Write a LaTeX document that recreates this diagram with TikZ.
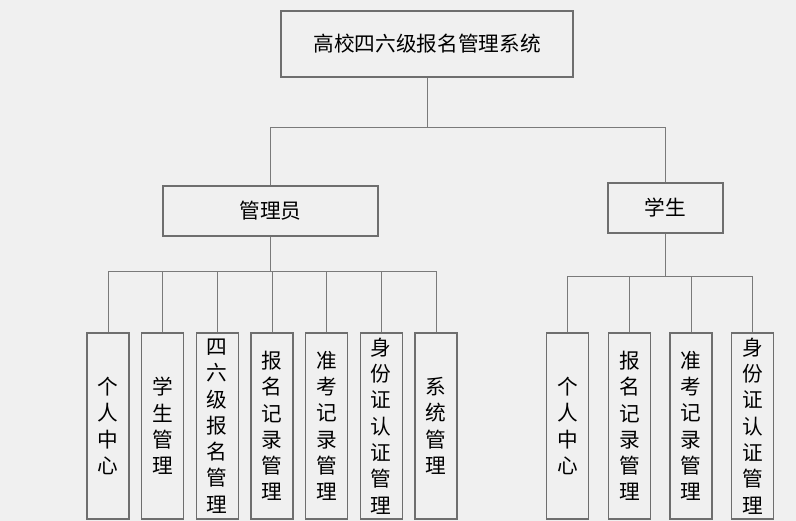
\documentclass[tikz,border=0pt]{standalone}
\usepackage{fontspec}
\setmainfont{Noto Sans CJK SC}
\usepackage{tikz}
\usetikzlibrary{positioning,calc}
\definecolor{bgcol}{HTML}{F0F0F0}
\definecolor{linecol}{HTML}{7A7A7A}
\definecolor{boxcol}{HTML}{6E6E6E}

\begin{document}
\begin{tikzpicture}[
x=0.75pt,y=-0.75pt,
box/.style={
  draw=boxcol,
  line width=0.8pt,
  inner sep=0pt,
  font=\fontsize{15.5pt}{19.7pt}\selectfont
  },
leaf/.style={
  box,
  minimum width=31.5pt,
  minimum height=139.5pt,
  align=center
  },
link/.style={
  draw=linecol,
  line width=0.75pt
  }
]
\clip (0,0) rectangle (796,521);
\fill[bgcol] (0,0) rectangle (796,521);

\node[box, minimum width=219pt, minimum height=49.5pt] at (427,44)
  (sys) {高校四六级报名管理系统};
\node[box, minimum width=161.25pt, minimum height=37.5pt] at (270.5,211)
  (admin) {管理员};
\node[box, minimum width=86.25pt, minimum height=37.5pt] at (665.5,208)
  (stu) {学生};

\coordinate (topbus) at (427,127);
\coordinate (abus) at (270.5,271);
\coordinate (sbus) at (665.5,276);

% admin leaves
\foreach \ai/\x/\t in {1/108/{个\\人\\中\\心},
  2/162.7/{学\\生\\管\\理},
  3/217.3/{四\\六\\级\\报\\名\\管\\理},
  4/272/{报\\名\\记\\录\\管\\理},
  5/326.7/{准\\考\\记\\录\\管\\理},
  6/381.3/{身\\份\\证\\认\\证\\管\\理},
  7/436/{系\\统\\管\\理}}
{\node[leaf] at (\x,426) (a\ai) {\t};
  \draw[link] (a\ai.north) |- (abus);
}

% student leaves
\foreach \ai/\x/\t in {1/567.5/{个\\人\\中\\心},
  2/629.5/{报\\名\\记\\录\\管\\理},
  3/691/{准\\考\\记\\录\\管\\理},
  4/752.5/{身\\份\\证\\认\\证\\管\\理}}
{\node[leaf] at (\x,426) (s\ai) {\t};
  \draw[link] (s\ai.north) |- (sbus);
}

\draw[link] (sys.south) -- (topbus);
\draw[link] (admin.north) |- (topbus);
\draw[link] (stu.north) |- (topbus);
\draw[link] (admin.south) -- (abus);
\draw[link] (stu.south) -- (sbus);
\end{tikzpicture}
\end{document}
